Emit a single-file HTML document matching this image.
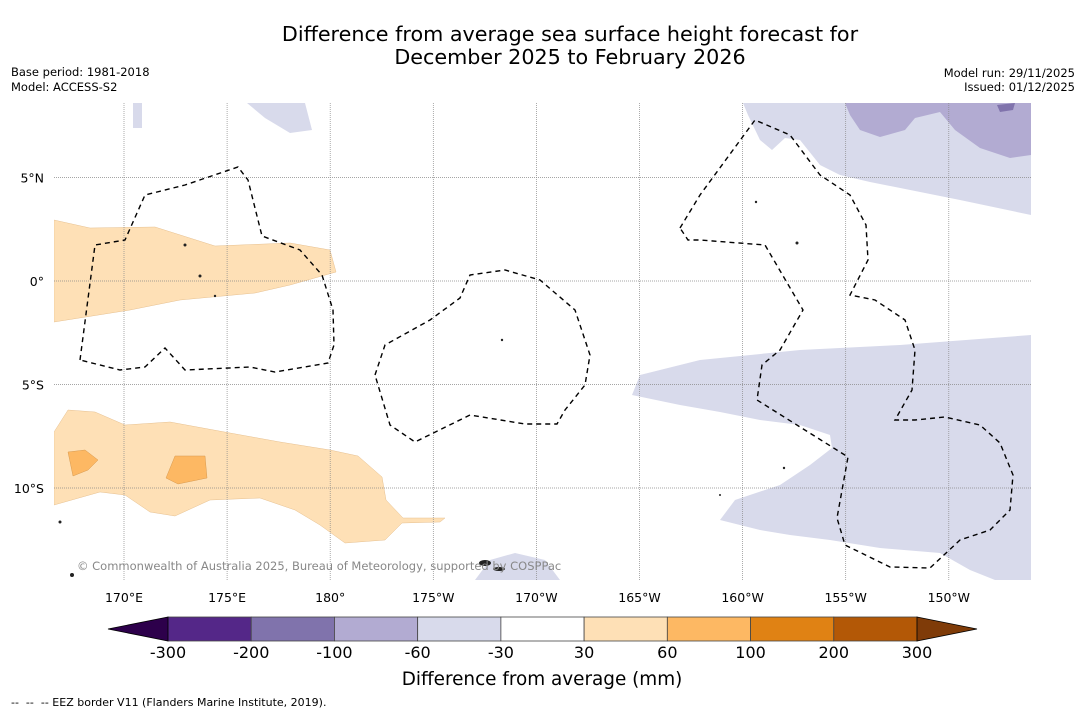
<!DOCTYPE html>
<html><head><meta charset="utf-8"><style>
html,body{margin:0;padding:0;background:#fff;}
svg{display:block;font-family:"DejaVu Sans","Liberation Sans",sans-serif;}
</style></head><body>
<svg id="c" width="1085" height="713" viewBox="0 0 1085 713">
<rect width="1085" height="713" fill="#fff"/>
<text x="570" y="41" font-size="20.7" text-anchor="middle">Difference from average sea surface height forecast for</text>
<text x="570" y="64" font-size="20.7" text-anchor="middle">December 2025 to February 2026</text>
<text x="11" y="76" font-size="11.5">Base period: 1981-2018</text>
<text x="11" y="91" font-size="11.5">Model: ACCESS-S2</text>
<text x="1075" y="77" font-size="11.5" text-anchor="end">Model run: 29/11/2025</text>
<text x="1075" y="91" font-size="11.5" text-anchor="end">Issued: 01/12/2025</text>

<g>
<clipPath id="mc"><rect x="54" y="103" width="977" height="477"/></clipPath>
<g clip-path="url(#mc)">
<path fill="#fee0b6" stroke="#e6c090" stroke-width="0.5" d="M54,220 L90,228 155,227 215,246 290,243 330,250 336,272 290,285 255,293 180,300 130,310 54,322Z"/>
<path fill="#fee0b6" stroke="#e6c090" stroke-width="0.5" d="M54,432 L68,410 95,412 125,425 170,422 230,433 280,442 330,450 358,456 382,477 386,500 403,518 445,518 440,522 402,523 385,540 345,543 320,525 295,510 260,498 210,500 175,516 150,512 125,495 100,492 54,505Z"/>
<path fill="#fdb863" stroke="#d89a50" stroke-width="0.5" d="M68,452 L85,450 98,460 88,470 73,476Z"/>
<path fill="#fdb863" stroke="#d89a50" stroke-width="0.5" d="M175,456 L205,456 207,478 178,484 166,478Z"/>
<path fill="#d8daeb" d="M133,103 L142,103 142,128 133,128Z"/>
<path fill="#d8daeb" d="M247,103 L305,103 312,130 290,133 265,118Z"/>
<path fill="#d8daeb" d="M743,103 L1031,103 1031,215 960,200 870,182 840,175 820,165 800,140 785,138 772,150 760,140 748,115Z"/>
<path fill="#b2abd2" d="M845,103 L1031,103 1031,155 1010,158 980,148 955,130 940,112 915,118 905,130 880,137 860,130 850,115Z"/>
<path fill="#8073ac" d="M997,105 L1015,103 1013,110 1000,112Z"/>
<path fill="#d8daeb" d="M632,395 L640,375 700,360 800,350 900,345 1031,335 1031,580 995,580 970,570 940,553 880,548 830,540 790,535 760,530 720,520 735,500 780,485 810,465 832,448 830,435 800,425 760,420 720,412 680,405Z"/>
<path fill="#d8daeb" d="M475,580 L490,560 515,553 545,560 560,580Z"/>
</g>
<g id="grid" stroke="#888" stroke-width="0.7" stroke-dasharray="1,1"></g>
<g fill="none" stroke="#000" stroke-width="1.4" stroke-dasharray="5,4">
<path d="M80,360 L95,245 125,240 145,195 185,185 238,167 248,180 262,236 300,250 322,275 333,310 334,345 328,363 275,372 250,367 185,370 165,348 145,367 120,370Z"/>
<path d="M375,375 L385,345 430,320 460,298 470,275 505,270 540,280 575,310 590,355 585,385 565,410 557,424 525,424 470,415 415,442 390,425Z"/>
<path d="M680,228 L700,195 755,120 790,135 820,175 850,195 866,225 868,260 850,295 875,300 905,320 915,350 912,390 895,420 915,420 945,417 980,425 1000,443 1013,475 1010,510 990,530 960,540 930,568 890,567 845,545 837,518 848,457 757,400 762,365 780,350 803,310 765,245 700,240 688,240Z"/>
</g>
<g fill="#222">
<circle cx="185" cy="245" r="1.5"/><circle cx="200" cy="276" r="1.5"/><circle cx="215" cy="296" r="1.2"/><circle cx="502" cy="340" r="1.2"/><circle cx="797" cy="243" r="1.5"/><circle cx="756" cy="202" r="1.2"/><circle cx="784" cy="468" r="1.2"/><circle cx="720" cy="495" r="1"/><circle cx="60" cy="522" r="1.5"/><circle cx="72" cy="575" r="2"/>
<ellipse cx="485" cy="563" rx="6" ry="3"/><ellipse cx="499" cy="569" rx="6" ry="2"/>
</g>
<text x="77" y="570" font-size="11.5" fill="#888">© Commonwealth of Australia 2025, Bureau of Meteorology, supported by COSPPac</text>
</g>
<g id="axes"></g>
<g id="cbar"></g>
<text x="542" y="685" font-size="18.4" text-anchor="middle">Difference from average (mm)</text>
<text x="11" y="706" font-size="11">--&#160;&#160;--&#160;&#160;-- EEZ border V11 (Flanders Marine Institute, 2019).</text>
</svg>
<script>
const lonLabels=["170°E","175°E","180°","175°W","170°W","165°W","160°W","155°W","150°W"];
const lonValues=[170,175,180,185,190,195,200,205,210];
const latLabels=["5°N","0°","5°S","10°S"];
const latValues=[5,0,-5,-10];
const levelLabels=["-300","-200","-100","-60","-30","30","60","100","200","300"];
const binColors=["#542788","#8073ac","#b2abd2","#d8daeb","#ffffff","#fee0b6","#fdb863","#e08214","#b35806"];
const extendColors=["#2d004b","#7f3b08"];
const NS="http://www.w3.org/2000/svg";
const xLon=l=>124+(l-170)*20.62;
const yLat=l=>281-l*20.7;
function mk(t,a,p){const e=document.createElementNS(NS,t);for(const k in a)e.setAttribute(k,a[k]);p.appendChild(e);return e;}
const grid=document.getElementById('grid'),axes=document.getElementById('axes'),cb=document.getElementById('cbar');
lonValues.forEach((v,i)=>{const x=xLon(v);
const l=mk('line',{x1:x,x2:x,y1:103,y2:580},grid);


const t=mk('text',{x:x,y:602,'font-size':12.5,'text-anchor':'middle'},axes);t.textContent=lonLabels[i];

});
latValues.forEach((v,i)=>{const y=yLat(v);
const l=mk('line',{x1:54,x2:1031,y1:y,y2:y},grid);


const t=mk('text',{x:44,y:y+5,'font-size':12.5,'text-anchor':'end'},axes);t.textContent=latLabels[i];

});
const cx0=168,cx1=917,cy=617,ch=24,w=(cx1-cx0)/binColors.length;
binColors.forEach((c,i)=>{const r=mk('rect',{x:cx0+i*w,y:cy,width:w,height:ch,fill:c,stroke:'#444','stroke-width':0.8},cb);

});
const tl=mk('polygon',{points:`${cx0},${cy} 108,${cy+ch/2} ${cx0},${cy+ch}`,fill:extendColors[0],stroke:'#000','stroke-width':0.8},cb);


const tr=mk('polygon',{points:`${cx1},${cy} 977,${cy+ch/2} ${cx1},${cy+ch}`,fill:extendColors[1],stroke:'#000','stroke-width':0.8},cb);


levelLabels.forEach((s,i)=>{const t=mk('text',{x:cx0+i*w,y:658,'font-size':16,'text-anchor':'middle'},cb);t.textContent=s;

});
</script>
</body></html>
